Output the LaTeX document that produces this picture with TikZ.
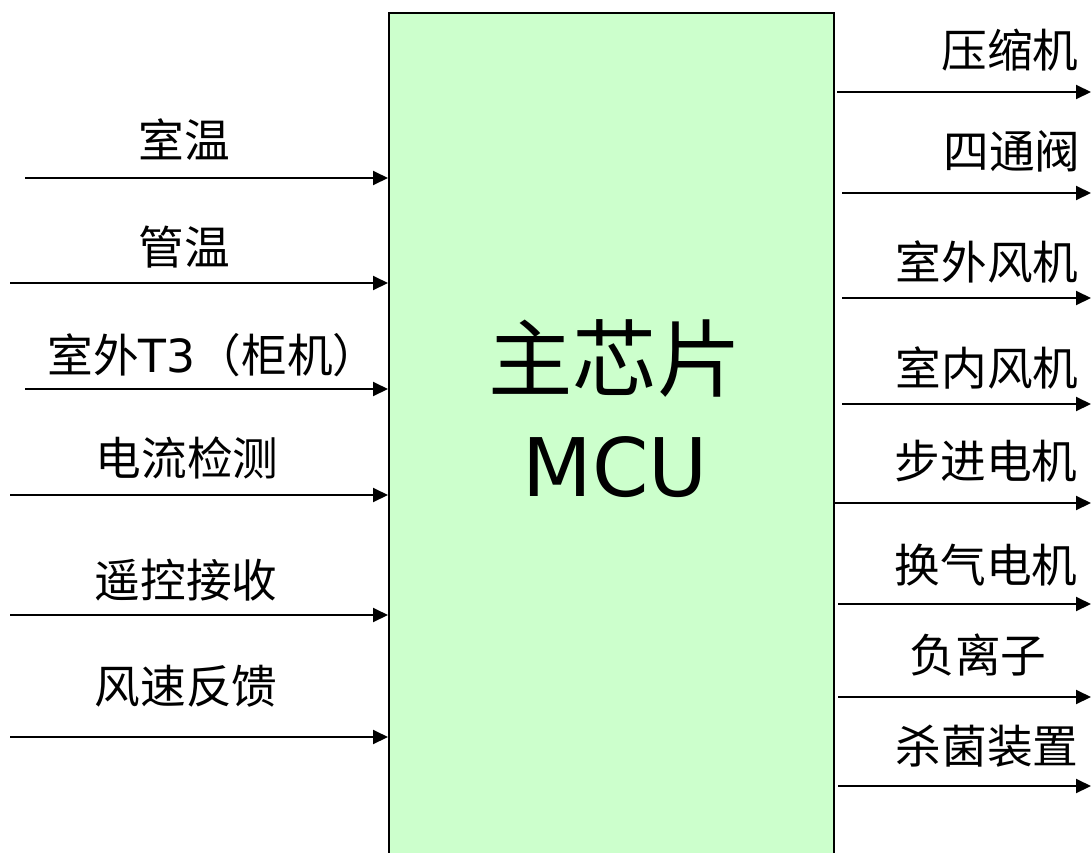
\documentclass[tikz,border=0pt]{standalone}
\usepackage{fontspec}
\setmainfont{DejaVu Sans}
\newfontfamily\cjk{Noto Sans CJK SC}
\newfontfamily\latinfont{DejaVu Sans}
\usetikzlibrary{arrows.meta}
\definecolor{chipgreen}{RGB}{204,255,204}
\tikzset{
  lbl/.style={inner sep=0pt, font=\cjk\fontsize{26}{30}\selectfont},
  sig/.style={line width=1.1pt, -{Triangle[length=0.3cm,width=0.28cm]}},
  chip/.style={draw, line width=1.1pt, fill=chipgreen, anchor=north west,
    inner sep=0pt, minimum width=8.9cm, minimum height=17.9cm}
}
\begin{document}
\begin{tikzpicture}[x=0.02cm,y=-0.02cm]
\useasboundingbox (0,0) rectangle (1091,852);
\clip (0,0) rectangle (1091,852);

% main chip
\node[chip] (mcu) at (388,12) {};
\node[inner sep=0pt, font=\cjk\fontsize{48}{52}\selectfont] (chipname) at (615,358) {主芯片};
\node[inner sep=0pt, font=\fontsize{46}{52}\selectfont] (chiptype) at (615,467) {MCU};

% inputs
\foreach \name/\txt/\lx/\ly/\sx/\ay in {
  rt/室温/184/140/25/178,
  pt/管温/184/247/10/283,
  ot/{室外{\latinfont T3}（柜机）}/213/355/25/389,
  cur/电流检测/187/458/10/495,
  rc/遥控接收/186/580/10/615,
  fs/风速反馈/186/686/10/737}
{
  \node[lbl] (\name) at (\lx,\ly) {\txt};
  \coordinate (\name-s) at (\sx,\ay);
  \draw[sig] (\name-s) -- (\name-s -| mcu.west);
}

% outputs
\foreach \name/\txt/\lx/\ly/\sx/\ay in {
  comp/压缩机/1010/50/837/92,
  valve/四通阀/1012/151/842/193,
  ofan/室外风机/987/262/842/298,
  ifan/室内风机/987/368/842/404,
  step/步进电机/986/461/833/503,
  vent/换气电机/986/565/838/604,
  ion/负离子/978/655/838/697,
  steril/杀菌装置/987/746/838/786}
{
  \node[lbl] (\name) at (\lx,\ly) {\txt};
  \coordinate (\name-s) at (\sx,\ay);
  \coordinate (\name-e) at (1091,\ay);
  \draw[sig] (\name-s) -- (\name-e);
}
\end{tikzpicture}
\end{document}
